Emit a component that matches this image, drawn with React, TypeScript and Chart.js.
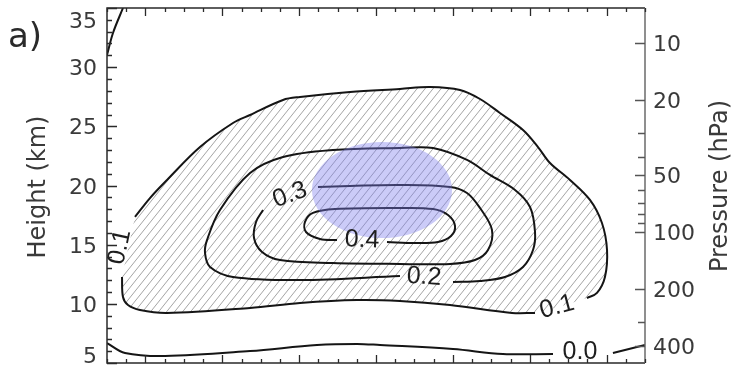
import React, { useEffect, useRef } from 'react';
import { Chart, registerables } from 'chart.js';

Chart.register(...registerables);

// ---------- axes ----------
const X_MIN = -35;
const X_MAX = 35;
const H_MIN = 5;
const H_MAX = 35;
const P_TOP = 6.53; // hPa at the top of the frame
const P_BOTTOM = 493; // hPa at the bottom of the frame

const heightTicks = [5, 10, 15, 20, 25, 30, 35];
const heightMinorStep = 1;
const pressureTicks = [10, 20, 50, 100, 200, 400];
const pressureMinor = [30, 40, 60, 70, 80, 90, 300];
const xMajorTicks = [-30, -20, -10, 0, 10, 20, 30];
const xMinorStep = 2.5;

// ---------- contours (x, height km) ----------
const contour00a = [
  [-35, 6.69], [-32.66, 5.85], [-27.45, 5.59], [-16.39, 6.01], [-7.68, 6.52],
  [-2.47, 6.61], [0.52, 6.52], [10.02, 6.18], [16.52, 5.76], [23.03, 5.76],
];
const contour00b = [[30.83, 5.85], [35, 6.52]];
const contourCorner = [[-35, 31.03], [-34.22, 32.89], [-32.92, 35.0]];
const contour01a = [
  [-33.05, 12.27], [-32.92, 10.58], [-32.27, 9.9], [-30.71, 9.48], [-27.19, 9.23],
  [-16.39, 9.65], [-9.89, 10.07], [-2.47, 10.32], [3.12, 10.24], [9.63, 9.9],
  [17.69, 9.23], [20.69, 9.23],
];
const contour01b = [
  [27.45, 10.49], [28.75, 10.92], [29.79, 12.27], [30.06, 14.55], [29.4, 16.83],
  [27.84, 18.78], [25.24, 20.47], [22.64, 21.9], [21.08, 23.25], [19.13, 24.69],
  [16.13, 26.13], [13.53, 27.31], [10.93, 28.07], [7.03, 28.32], [3.12, 28.16],
  [-3.38, 27.9], [-9.89, 27.48], [-12.1, 27.23], [-16.39, 25.96], [-18.61, 25.28],
  [-22.9, 23.25], [-27.19, 20.47], [-29.41, 18.94], [-31.36, 17.34],
];
const contour02 = [
  [10.02, 11.85], [13.53, 11.93], [16.78, 12.27], [19.13, 13.11], [20.43, 14.55],
  [20.69, 16.07], [20.04, 18.18], [18.09, 19.62], [14.83, 20.89], [11.84, 22.16],
  [7.42, 23.17], [3.12, 23.17], [-5.6, 23.0], [-12.1, 22.41], [-16.39, 21.06],
  [-20.3, 17.93], [-21.99, 15.39], [-22.25, 14.3], [-21.6, 13.11], [-18.61, 12.27],
  [-9.89, 12.01], [3.12, 12.35],
];
const contour03 = [
  [-7.55, 19.87], [-3.38, 19.96], [3.12, 20.04], [9.63, 19.87], [11.84, 19.37],
  [13.53, 18.1], [15.09, 16.24], [14.57, 14.55], [12.88, 13.7], [9.63, 13.37],
  [3.12, 13.37], [-5.6, 13.45], [-12.49, 13.7], [-14.83, 14.38], [-15.87, 15.56],
  [-15.61, 16.92], [-14.7, 17.93],
];
const contour04 = [
  [-5.07, 15.39], [-7.29, 15.48], [-9.11, 16.07], [-9.24, 16.92], [-8.2, 17.68],
  [-5.33, 18.01], [3.12, 18.1], [7.42, 18.01], [9.37, 17.51], [10.28, 16.58],
  [9.76, 15.73], [8.07, 15.23], [5.07, 15.14], [1.43, 15.23],
];

// ---------- contour labels ----------
const labelTexts = ['0.0', '0.1', '0.1', '0.2', '0.3', '0.4'];
const labelX = [26.54, 23.55, -33.31, 6.25, -11.19, -1.82];
const labelY = [5.93, 9.73, 14.8, 12.27, 19.2, 15.39];
const labelAngle = [0, -15, -78, 4, -20, 2];

// ---------- highlighted region ----------
const ellipseCenter = [0.78, 19.62];
const ellipseRadius = [9.11, 4.06];

const toPts = (arr: number[][]) => arr.map(([x, y]) => ({ x, y }));

function makeHatch(): CanvasPattern | string {
  const c = document.createElement('canvas');
  const W = 8;
  const H = 10;
  c.width = W;
  c.height = H;
  const g = c.getContext('2d');
  if (!g) return 'rgba(0,0,0,0)';
  g.strokeStyle = '#9a9a9a';
  g.lineWidth = 0.9;
  for (const dx of [-W, 0, W]) {
    for (const dy of [-H, 0, H]) {
      g.beginPath();
      g.moveTo(dx, H + dy);
      g.lineTo(W + dx, dy);
      g.stroke();
    }
  }
  return g.createPattern(c, 'repeat') || '#ccc';
}

const FONT = '"DejaVu Sans", sans-serif';

const decorPlugin = {
  id: 'decor',
  afterDatasetsDraw(chart: any) {
    const { ctx, scales } = chart;
    const x = scales.x;
    const y = scales.y;
    const cx = x.getPixelForValue(ellipseCenter[0]);
    const cy = y.getPixelForValue(ellipseCenter[1]);
    const rx = Math.abs(x.getPixelForValue(ellipseCenter[0] + ellipseRadius[0]) - cx);
    const ry = Math.abs(y.getPixelForValue(ellipseCenter[1] + ellipseRadius[1]) - cy);
    ctx.save();
    ctx.fillStyle = 'rgba(125,125,238,0.4)';
    ctx.beginPath();
    ctx.ellipse(cx, cy, rx, ry, 0, 0, Math.PI * 2);
    ctx.fill();
    ctx.restore();
  },
  afterDraw(chart: any) {
    const { ctx, chartArea: a, scales } = chart;
    const x = scales.x;
    const y = scales.y;
    const yp = scales.yP;
    ctx.save();

    // contour labels
    ctx.fillStyle = '#1e1e1e';
    ctx.font = '25px "Liberation Sans", sans-serif';
    ctx.textAlign = 'center';
    ctx.textBaseline = 'middle';
    labelTexts.forEach((t, i) => {
      ctx.save();
      ctx.translate(x.getPixelForValue(labelX[i]), y.getPixelForValue(labelY[i]));
      ctx.rotate((labelAngle[i] * Math.PI) / 180);
      ctx.fillText(t, 0, 0);
      ctx.restore();
    });

    // frame
    ctx.lineWidth = 1.5;
    ctx.strokeStyle = '#2a2a2a';
    ctx.beginPath();
    ctx.moveTo(a.right, a.top);
    ctx.lineTo(a.left, a.top);
    ctx.lineTo(a.left, a.bottom);
    ctx.lineTo(a.right, a.bottom);
    ctx.stroke();
    ctx.strokeStyle = '#6a6a6a';
    ctx.beginPath();
    ctx.moveTo(a.right, a.top);
    ctx.lineTo(a.right, a.bottom);
    ctx.stroke();

    // left ticks
    ctx.strokeStyle = '#2a2a2a';
    ctx.lineWidth = 1.3;
    ctx.beginPath();
    for (let v = H_MIN; v <= H_MAX + 1e-9; v += heightMinorStep) {
      const py = Math.round(y.getPixelForValue(v)) + 0.5;
      const len = heightTicks.includes(v) ? 10 : 5;
      ctx.moveTo(a.left, py);
      ctx.lineTo(a.left + len, py);
    }
    ctx.stroke();

    // bottom / top ticks
    ctx.beginPath();
    for (let v = X_MIN; v <= X_MAX + 1e-9; v += xMinorStep) {
      const px = Math.round(x.getPixelForValue(v)) + 0.5;
      const len = xMajorTicks.includes(v) ? 8 : 4;
      ctx.moveTo(px, a.bottom);
      ctx.lineTo(px, a.bottom - len);
      ctx.moveTo(px, a.top);
      ctx.lineTo(px, a.top + len);
    }
    ctx.stroke();

    // right ticks (pressure)
    ctx.strokeStyle = '#555';
    ctx.beginPath();
    pressureTicks.forEach((p) => {
      const py = Math.round(yp.getPixelForValue(p)) + 0.5;
      ctx.moveTo(a.right, py);
      ctx.lineTo(a.right - 10, py);
    });
    pressureMinor.forEach((p) => {
      const py = Math.round(yp.getPixelForValue(p)) + 0.5;
      ctx.moveTo(a.right, py);
      ctx.lineTo(a.right - 7, py);
    });
    ctx.stroke();

    // tick labels
    ctx.fillStyle = '#3a3a3a';
    ctx.font = '22px ' + FONT;
    ctx.textBaseline = 'alphabetic';
    ctx.textAlign = 'right';
    heightTicks.forEach((v) => {
      let cy = y.getPixelForValue(v);
      cy = Math.max(a.top + 12, Math.min(a.bottom - 8, cy));
      ctx.fillText(String(v), a.left - 10, cy + 8);
    });
    ctx.textAlign = 'left';
    pressureTicks.forEach((p) => {
      const cy = yp.getPixelForValue(p);
      ctx.fillText(String(p), a.right + 8, cy + 8);
    });

    // axis titles
    ctx.font = '24px ' + FONT;
    ctx.textAlign = 'center';
    ctx.save();
    ctx.translate(45, 187);
    ctx.rotate(-Math.PI / 2);
    ctx.fillText('Height (km)', 0, 0);
    ctx.restore();
    ctx.save();
    ctx.translate(727, 186);
    ctx.rotate(-Math.PI / 2);
    ctx.fillText('Pressure (hPa)', 0, 0);
    ctx.restore();

    // panel tag
    ctx.fillStyle = '#2a2a2a';
    ctx.font = '34px ' + FONT;
    ctx.textAlign = 'left';
    ctx.fillText('a)', 8, 47);

    ctx.restore();
  },
};

export default function App() {
  const ref = useRef<HTMLCanvasElement | null>(null);

  useEffect(() => {
    if (!ref.current) return;
    const hatch = makeHatch();
    const line = (pts: number[][]) => ({
      type: 'line' as const,
      data: toPts(pts),
      showLine: true,
      borderColor: '#151515',
      borderWidth: 2,
      pointRadius: 0,
      tension: 0.35,
      fill: false,
      order: 1,
    });
    const chart = new Chart(ref.current, {
      type: 'scatter',
      data: {
        datasets: [
          {
            type: 'line' as const,
            data: toPts([...contour01a, ...contour01b]),
            showLine: true,
            borderWidth: 0,
            borderColor: 'rgba(0,0,0,0)',
            backgroundColor: hatch as any,
            pointRadius: 0,
            tension: 0.35,
            fill: 'shape',
            order: 10,
          },
          line(contour00a),
          line(contour00b),
          line(contourCorner),
          line(contour01a),
          line(contour01b),
          line(contour02),
          line(contour03),
          line(contour04),
        ] as any,
      },
      options: {
        animation: false,
        responsive: false,
        maintainAspectRatio: false,
        events: [],
        layout: { padding: { left: 107, top: 8, right: 87, bottom: 3 } },
        plugins: { legend: { display: false }, tooltip: { enabled: false } },
        scales: {
          x: { type: 'linear', min: X_MIN, max: X_MAX, display: false },
          y: { type: 'linear', min: H_MIN, max: H_MAX, display: false },
          yP: {
            type: 'logarithmic',
            position: 'right',
            reverse: true,
            min: P_TOP,
            max: P_BOTTOM,
            display: false,
          },
        },
      } as any,
      plugins: [decorPlugin],
    });
    return () => chart.destroy();
  }, []);

  return (
    <div style={{ position: 'fixed', left: 0, top: 0, width: 732, height: 366, background: '#fff' }}>
      <canvas ref={ref} width={732} height={366} style={{ display: 'block', width: 732, height: 366 }} />
    </div>
  );
}
